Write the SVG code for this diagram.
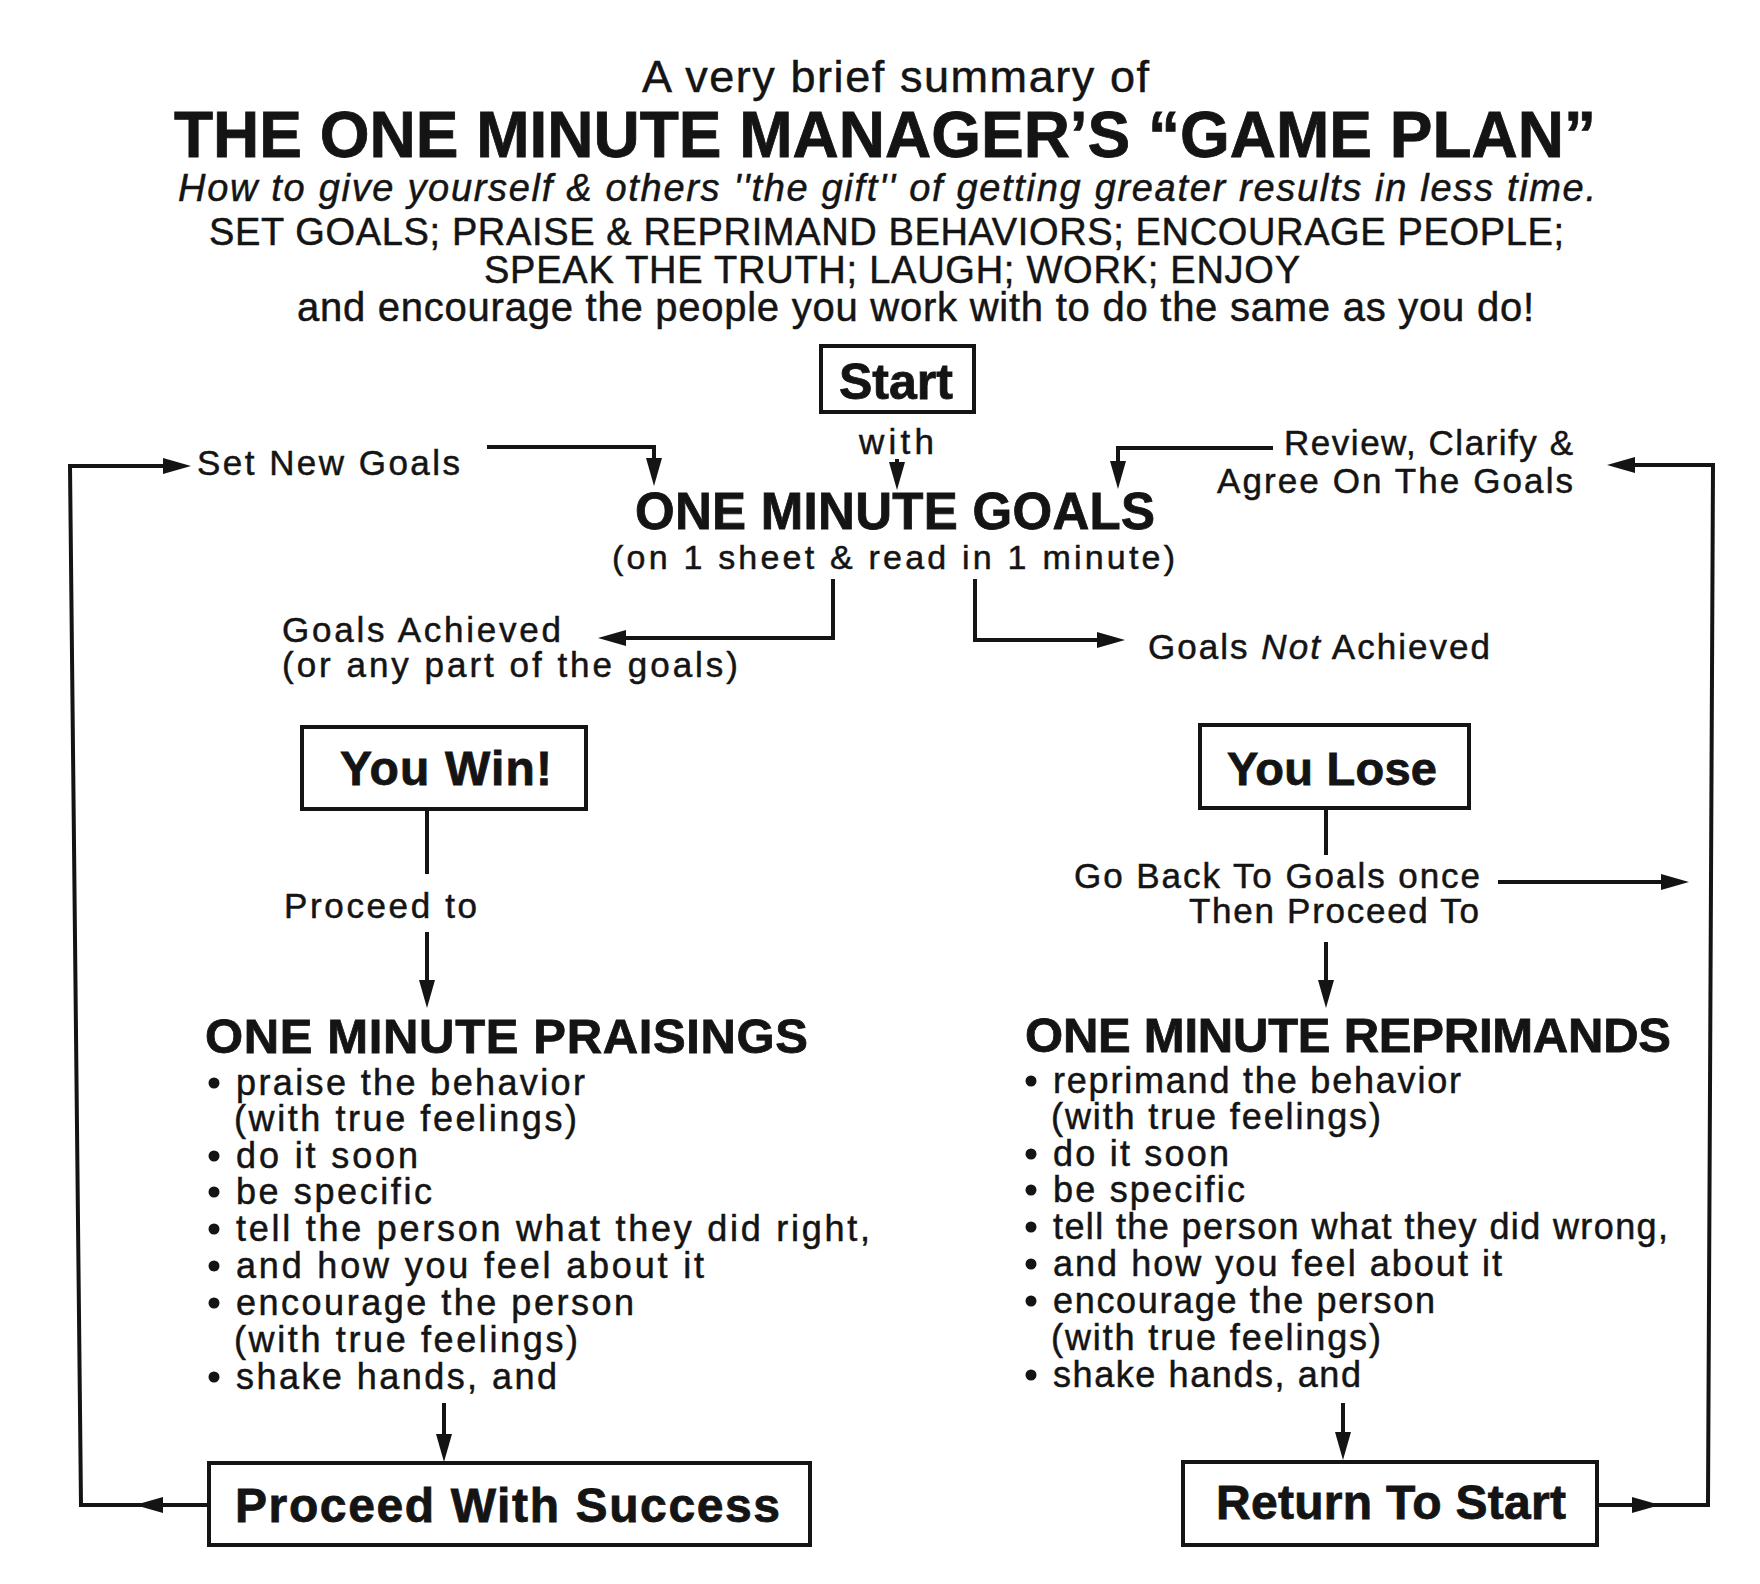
<svg xmlns="http://www.w3.org/2000/svg" width="1760" height="1584" viewBox="0 0 1760 1584">
<style>
text{font-family:"Liberation Sans",Arial,Helvetica,sans-serif;fill:#141414;stroke:#141414;stroke-width:0.5}
.b{font-weight:bold;stroke-width:0.8}
.lbl{font-size:35px}
.bul{font-size:36px}
.box{fill:none;stroke:#141414;stroke-width:4}
.con{fill:none;stroke:#141414;stroke-width:4;stroke-linejoin:miter}
.dot{fill:#141414}
</style>
<defs>
<marker id="ah" markerUnits="userSpaceOnUse" markerWidth="30" markerHeight="18" refX="20" refY="8" orient="auto">
<path d="M0,0 L28,8 L0,16 Z" fill="#141414"/>
</marker>
</defs>
<rect width="1760" height="1584" fill="#ffffff"/>

<g id="header">
<text x="642" y="92" font-size="45" textLength="507">A very brief summary of</text>
<text class="b" x="174" y="157" font-size="64" textLength="1422">THE ONE MINUTE MANAGER’S “GAME PLAN”</text>
<text x="178" y="201" font-size="38" font-style="italic" textLength="1418">How to give yourself &amp; others ''the gift'' of getting greater results in less time.</text>
<text x="209" y="245" font-size="38" textLength="1355">SET GOALS; PRAISE &amp; REPRIMAND BEHAVIORS; ENCOURAGE PEOPLE;</text>
<text x="484" y="283" font-size="38" textLength="816">SPEAK THE TRUTH; LAUGH; WORK; ENJOY</text>
<text x="297" y="321" font-size="40" textLength="1237">and encourage the people you work with to do the same as you do!</text>
</g>

<g id="start">
<rect class="box" x="821" y="346" width="153" height="66"/>
<text class="b" x="839" y="399" font-size="50" textLength="114">Start</text>
</g>

<g id="with-label">
<text class="lbl" x="859" y="454" textLength="75">with</text>
</g>

<g id="set-new-goals">
<text class="lbl" x="197" y="475" textLength="263">Set New Goals</text>
</g>

<g id="review-goals">
<text class="lbl" x="1284" y="455" textLength="289">Review, Clarify &amp;</text>
<text class="lbl" x="1217" y="493" textLength="356">Agree On The Goals</text>
</g>

<g id="one-minute-goals">
<text class="b" x="635" y="529" font-size="51" textLength="520">ONE MINUTE GOALS</text>
<text x="612" y="569" font-size="34" textLength="563">(on 1 sheet &amp; read in 1 minute)</text>
</g>

<g id="goals-achieved">
<text class="lbl" x="282" y="642" textLength="279">Goals Achieved</text>
<text class="lbl" x="282" y="677" textLength="456">(or any part of the goals)</text>
</g>

<g id="goals-not-achieved">
<text class="lbl" x="1148" y="659" textLength="342">Goals <tspan font-style="italic">Not</tspan> Achieved</text>
</g>

<g id="you-win">
<rect class="box" x="302" y="727" width="284" height="82"/>
<text class="b" x="340" y="785" font-size="48" textLength="212">You Win!</text>
</g>

<g id="proceed-to">
<text class="lbl" x="284" y="918" textLength="193">Proceed to</text>
</g>

<g id="you-lose">
<rect class="box" x="1200" y="725" width="269" height="83"/>
<text class="b" x="1227" y="785" font-size="47" textLength="210">You Lose</text>
</g>

<g id="go-back">
<text class="lbl" x="1074" y="888" textLength="406">Go Back To Goals once</text>
<text class="lbl" x="1189" y="923" textLength="290">Then Proceed To</text>
</g>

<g id="praisings">
<text class="b" x="205" y="1053" font-size="49" textLength="603">ONE MINUTE PRAISINGS</text>
<circle class="dot" cx="214" cy="1083" r="5.5"/>
<text class="bul" x="236" y="1095" textLength="349">praise the behavior</text>
<text class="bul" x="234" y="1131" textLength="343">(with true feelings)</text>
<circle class="dot" cx="214" cy="1156" r="5.5"/>
<text class="bul" x="236" y="1168" textLength="182">do it soon</text>
<circle class="dot" cx="214" cy="1192" r="5.5"/>
<text class="bul" x="236" y="1204" textLength="196">be specific</text>
<circle class="dot" cx="214" cy="1229" r="5.5"/>
<text class="bul" x="236" y="1241" textLength="634">tell the person what they did right,</text>
<circle class="dot" cx="214" cy="1266" r="5.5"/>
<text class="bul" x="236" y="1278" textLength="468">and how you feel about it</text>
<circle class="dot" cx="214" cy="1303" r="5.5"/>
<text class="bul" x="236" y="1315" textLength="398">encourage the person</text>
<text class="bul" x="234" y="1352" textLength="344">(with true feelings)</text>
<circle class="dot" cx="214" cy="1377" r="5.5"/>
<text class="bul" x="236" y="1389" textLength="321">shake hands, and</text>
</g>

<g id="reprimands">
<text class="b" x="1025" y="1052" font-size="49" textLength="646">ONE MINUTE REPRIMANDS</text>
<circle class="dot" cx="1031" cy="1081" r="5.5"/>
<text class="bul" x="1053" y="1093" textLength="408">reprimand the behavior</text>
<text class="bul" x="1051" y="1129" textLength="330">(with true feelings)</text>
<circle class="dot" cx="1031" cy="1154" r="5.5"/>
<text class="bul" x="1053" y="1166" textLength="176">do it soon</text>
<circle class="dot" cx="1031" cy="1190" r="5.5"/>
<text class="bul" x="1053" y="1202" textLength="192">be specific</text>
<circle class="dot" cx="1031" cy="1227" r="5.5"/>
<text class="bul" x="1053" y="1239" textLength="615">tell the person what they did wrong,</text>
<circle class="dot" cx="1031" cy="1264" r="5.5"/>
<text class="bul" x="1053" y="1276" textLength="449">and how you feel about it</text>
<circle class="dot" cx="1031" cy="1301" r="5.5"/>
<text class="bul" x="1053" y="1313" textLength="382">encourage the person</text>
<text class="bul" x="1051" y="1350" textLength="330">(with true feelings)</text>
<circle class="dot" cx="1031" cy="1375" r="5.5"/>
<text class="bul" x="1053" y="1387" textLength="308">shake hands, and</text>
</g>

<g id="proceed-with-success">
<rect class="box" x="209" y="1463" width="601" height="82"/>
<text class="b" x="235" y="1522" font-size="48" textLength="545">Proceed With Success</text>
</g>

<g id="return-to-start">
<rect class="box" x="1183" y="1462" width="414" height="83"/>
<text class="b" x="1216" y="1519" font-size="48" textLength="350">Return To Start</text>
</g>

<g id="connectors">
<path class="con" d="M897,459 L897,482" marker-end="url(#ah)"/>
<path class="con" d="M487,447 L654,447 L654,478" marker-end="url(#ah)"/>
<path class="con" d="M1273,448 L1118,448 L1118,481" marker-end="url(#ah)"/>
<path class="con" d="M833,579 L833,638 L606,638" marker-end="url(#ah)"/>
<path class="con" d="M975,579 L975,640 L1117,640" marker-end="url(#ah)"/>
<path class="con" d="M427,809 L427,874"/>
<path class="con" d="M427,932 L427,1000" marker-end="url(#ah)"/>
<path class="con" d="M1326,808 L1326,855"/>
<path class="con" d="M1326,942 L1326,1000" marker-end="url(#ah)"/>
<path class="con" d="M1498,882 L1681,882" marker-end="url(#ah)"/>
<path class="con" d="M444,1403 L444,1454" marker-end="url(#ah)"/>
<path class="con" d="M1343,1403 L1343,1452" marker-end="url(#ah)"/>
<path class="con" d="M209,1505 L143,1505" marker-end="url(#ah)"/>
<path class="con" d="M143,1505 L81,1505 L70,466 L183,466" marker-end="url(#ah)"/>
<path class="con" d="M1597,1505 L1652,1505" marker-end="url(#ah)"/>
<path class="con" d="M1652,1505 L1708,1505 L1713,465 L1615,465" marker-end="url(#ah)"/>
</g>
</svg>
